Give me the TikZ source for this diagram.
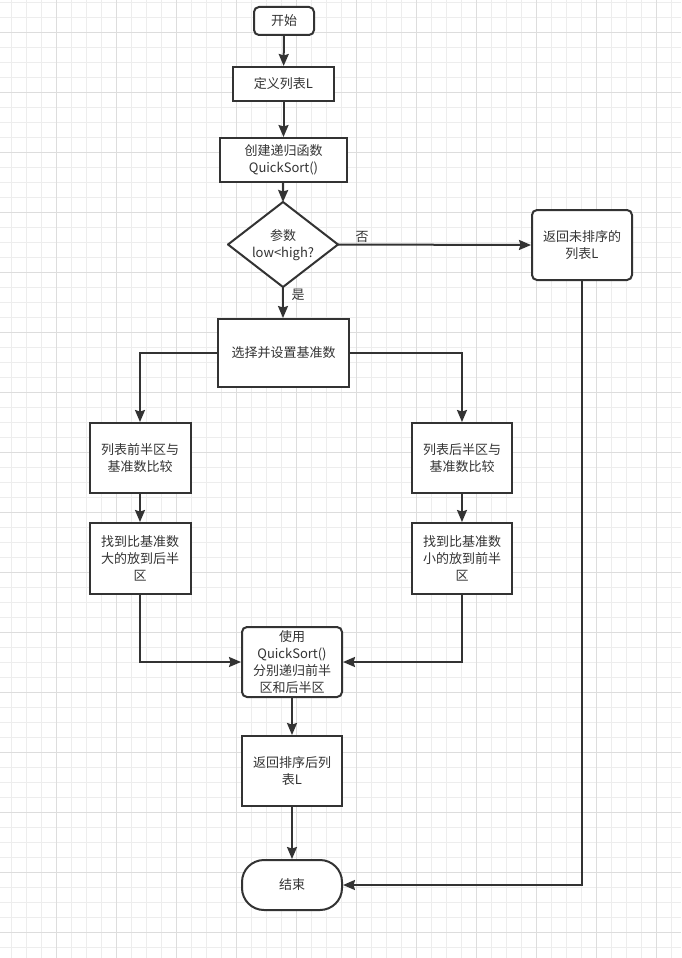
\documentclass[tikz,border=0pt]{standalone}
\usepackage{fontspec}
\setmainfont{Noto Sans CJK SC}
\usetikzlibrary{arrows.meta}
\definecolor{ln}{HTML}{333333}
\definecolor{txt}{HTML}{333333}
\definecolor{gminor}{HTML}{EDEDED}
\definecolor{gmajor}{HTML}{DDDDDD}
\begin{document}
\begin{tikzpicture}[x=1pt,y=-1pt,
  box/.style={draw=ln, line width=2pt, fill=white, inner sep=0pt, align=center,
    text=txt, font=\fontsize{13}{17}\selectfont},
  rbox/.style={box, rounded corners=5pt},
  conn/.style={draw=ln, line width=2pt, -{Stealth[length=12pt,width=10pt,inset=1.5pt]}},
  plain/.style={draw=ln, line width=2pt},
  lbl/.style={text=txt, font=\fontsize{13}{17}\selectfont, inner sep=0pt}]
\fill[white] (0,0) rectangle (681,958);
\useasboundingbox (0,0) rectangle (681,958);
\foreach \x in {11,26,...,671} \draw[gminor, line width=0.8pt] (\x,0) -- (\x,958);
\foreach \y in {2,17,...,950} \draw[gminor, line width=0.8pt] (0,\y) -- (681,\y);
\foreach \x in {56,116,...,671} \draw[gmajor, line width=0.9pt] (\x,0) -- (\x,958);
\foreach \y in {32,92,...,950} \draw[gmajor, line width=0.9pt] (0,\y) -- (681,\y);

\node[rbox, minimum width=60pt, minimum height=28pt] (start) at (284,21) {开始};
\node[box, minimum width=101pt, minimum height=34pt] (def) at (283.5,84) {定义列表L};
\node[box, minimum width=127pt, minimum height=44pt] (create) at (283.5,160) {创建递归函数\\QuickSort()};
% decision diamond
\coordinate (dN) at (283,202);
\coordinate (dS) at (283,287);
\coordinate (dW) at (228,244.5);
\coordinate (dE) at (338,244.5);
\draw[plain, fill=white, line join=round] (dN) -- (dE) -- (dS) -- (dW) -- cycle;
\node[lbl, align=center] (dec) at (283,245) {参数\\low<high?};
\node[rbox, minimum width=100pt, minimum height=70pt] (unsorted) at (582,245) {返回未排序的\\列表L};
\node[box, minimum width=131pt, minimum height=68pt] (choose) at (283.5,353) {选择并设置基准数};
\node[box, minimum width=101pt, minimum height=70pt] (lcmp) at (140,458) {列表前半区与\\基准数比较};
\node[box, minimum width=101pt, minimum height=71pt] (lfind) at (140,558.5) {找到比基准数\\大的放到后半\\区};
\node[box, minimum width=100pt, minimum height=70pt] (rcmp) at (462,458) {列表后半区与\\基准数比较};
\node[box, minimum width=100pt, minimum height=71pt] (rfind) at (462,558.5) {找到比基准数\\小的放到前半\\区};
\node[rbox, minimum width=100pt, minimum height=70pt] (use) at (292,662) {使用\\QuickSort()\\分别递归前半\\区和后半区};
\node[box, minimum width=100pt, minimum height=70pt] (ret) at (292,771) {返回排序后列\\表L};
\node[box, rounded corners=22pt, minimum width=100pt, minimum height=50pt] (end) at (292,885) {结束};

\draw[conn] (start) -- (def);
\draw[conn] (def) -- (create);
\draw[conn] (create) -- (dN);
\draw[conn] (dE) -- (unsorted.west);
\node[lbl] (no) at (362,237) {否};
\draw[conn] (dS) -- (dS |- choose.north);
\node[lbl] (yes) at (298,295) {是};
\draw[conn] (choose.west) -| (lcmp.north);
\draw[conn] (choose.east) -| (rcmp.north);
\draw[conn] (lcmp) -- (lfind);
\draw[conn] (rcmp) -- (rfind);
\draw[conn] (lfind.south) |- (use.west);
\draw[conn] (rfind.south) |- (use.east);
\draw[conn] (use) -- (ret);
\draw[conn] (ret) -- (end);
\draw[conn] (unsorted.south) |- (end.east);
\end{tikzpicture}
\end{document}
